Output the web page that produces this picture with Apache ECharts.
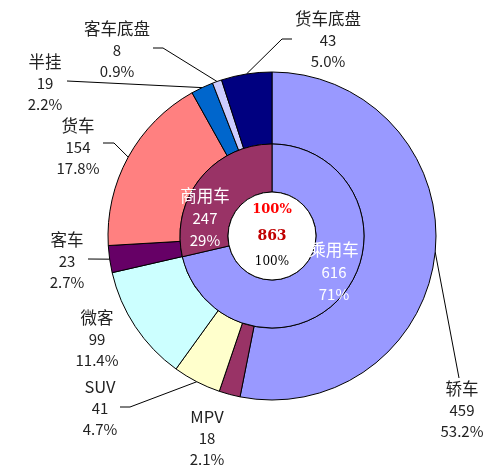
<!DOCTYPE html>
<html>
<head>
<meta charset="utf-8">
<script src="https://cdn.jsdelivr.net/npm/echarts@6/dist/echarts.min.js"></script>
<style>html,body{margin:0;padding:0;background:#fff}#c{width:500px;height:475px}</style>
</head>
<body>
<div id="c"></div>
<script>
// data
const outerNames = ['轿车','MPV','SUV','微客','客车','货车','半挂','客车底盘','货车底盘'];
const outerValues = [459, 18, 41, 99, 23, 154, 19, 8, 43];
const outerPercents = ['53.2%','2.1%','4.7%','11.4%','2.7%','17.8%','2.2%','0.9%','5.0%'];
const innerNames = ['乘用车','商用车'];
const innerValues = [616, 247];
const innerPercents = ['71%','29%'];
const totalValue = 863;
const totalPercent = '100%';

// styles
const outerColors = ['#9999FF','#993366','#FFFFCC','#CCFFFF','#660066','#FF8080','#0066CC','#CCCCFF','#000080'];
const innerColors = ['#9999FF','#993366'];
const FONT = '"Noto Sans CJK SC", sans-serif';

// label anchor layout (text block centers and leader-line elbows)
const outerLabelPos = [
  {x:462, y:410, pts:[[459,378]]},
  {x:207, y:438, pts:null},
  {x:100, y:408, pts:[[130,407],[120,407]]},
  {x:97,  y:339, pts:null},
  {x:67,  y:261, pts:[[88,259]]},
  {x:78,  y:147, pts:[[114,143],[103,143]]},
  {x:45,  y:83,  pts:[[67,81]]},
  {x:117, y:50,  pts:[[163,48],[153,48]]},
  {x:328, y:40,  pts:[[282,39],[292,39]]}
];
const innerLabelPos = [{x:334, y:272},{x:205, y:218}];

const outerData = outerNames.map((n,i)=>({
  name:n, value:outerValues[i], pct:outerPercents[i],
  itemStyle:{color:outerColors[i]},
  labelLine:{show: outerLabelPos[i].pts !== null}
}));
const innerData = innerNames.map((n,i)=>({
  name:n, value:innerValues[i], pct:innerPercents[i],
  itemStyle:{color:innerColors[i]}
}));

const chart = echarts.init(document.getElementById('c'), null, {renderer:'canvas'});
const C = [272, 236];
const labelFmt = p => '{n|'+p.name+'}\n{v|'+p.value+'}\n{v|'+p.data.pct+'}';
chart.setOption({
  animation:false,
  backgroundColor:'#fff',
  series:[
    {
      type:'pie', center:C, radius:[92,164], startAngle:90, clockwise:true,
      avoidLabelOverlap:false,
      itemStyle:{borderColor:'#000', borderWidth:1},
      data:outerData,
      label:{
        show:true, position:'outside', color:'#222', fontFamily:FONT, fontSize:15, lineHeight:21,
        align:'center',
        formatter:labelFmt,
        rich:{
          n:{fontSize:16.5, lineHeight:21, color:'#222', fontFamily:FONT},
          v:{fontSize:15, lineHeight:21, color:'#222', fontFamily:FONT}
        }
      },
      labelLine:{show:true, length:10, length2:10, lineStyle:{color:'#000', width:1}},
      labelLayout:function(params){
        const lp = outerLabelPos[params.dataIndex];
        const res = {x:lp.x, y:lp.y, align:'center', verticalAlign:'middle'};
        if (lp.pts && params.labelLinePoints) {
          res.labelLinePoints = [params.labelLinePoints[0]].concat(lp.pts);
        }
        return res;
      },
      emphasis:{disabled:true}
    },
    {
      type:'pie', center:C, radius:[44,92], startAngle:90, clockwise:true,
      itemStyle:{borderColor:'#000', borderWidth:1},
      data:innerData,
      label:{
        show:true, position:'inside', color:'#fff', fontFamily:FONT, fontSize:15, lineHeight:22,
        formatter:labelFmt,
        rich:{
          n:{fontSize:16.5, lineHeight:22, color:'#fff', fontFamily:FONT},
          v:{fontSize:15, lineHeight:22, color:'#fff', fontFamily:FONT}
        }
      },
      labelLine:{show:false},
      labelLayout:function(params){
        const lp = innerLabelPos[params.dataIndex];
        return {x:lp.x, y:lp.y, align:'center', verticalAlign:'middle'};
      },
      emphasis:{disabled:true}
    },
    {
      type:'pie', center:C, radius:[0,44], silent:true,
      itemStyle:{color:'#fff', borderColor:'#000', borderWidth:1},
      data:[{name:'总计', value:totalValue}],
      label:{
        show:true, position:'center',
        formatter:p=>'{a|'+totalPercent+'}\n{b|'+p.value+'}\n{c|'+totalPercent+'}',
        rich:{
          a:{color:'#FF0000', fontWeight:'bold', fontSize:13, lineHeight:26, fontFamily:'"DejaVu Serif", serif'},
          b:{color:'#C00000', fontWeight:'bold', fontSize:14, lineHeight:26, fontFamily:'"DejaVu Serif", serif'},
          c:{color:'#000', fontSize:12, lineHeight:26, fontFamily:'"DejaVu Serif", serif'}
        }
      },
      labelLine:{show:false},
      emphasis:{disabled:true}
    }
  ]
});
</script>
</body>
</html>
